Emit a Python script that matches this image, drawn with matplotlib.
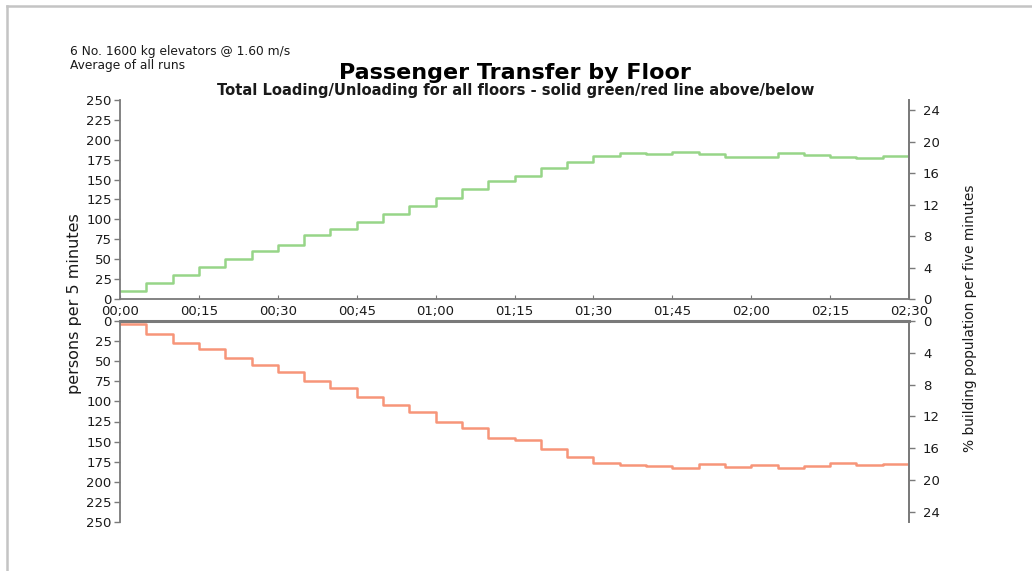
import matplotlib
matplotlib.use('Agg')
import matplotlib.pyplot as plt
from matplotlib.lines import Line2D
import numpy as np

plt.rcParams['font.family'] = ['DejaVu Sans']

# minutes from start, one step every 5 minutes (last point closes the final step)
minutes = np.arange(0, 155, 5)

# passengers loading (above) / unloading (below) per 5 minutes
loading = [10, 20, 30, 40, 50, 60, 68, 80, 88, 97, 107, 117, 127, 138, 148,
           155, 165, 172, 180, 184, 182, 185, 182, 178, 178, 184, 181, 178, 177, 180, 204]
unloading = [4, 16, 27, 35, 46, 55, 64, 75, 83, 95, 105, 113, 125, 133, 145,
             148, 159, 169, 176, 179, 180, 183, 178, 181, 179, 183, 180, 176, 179, 178, 205]

time_ticks = np.arange(0, 151, 15)
time_labels = ['00;00', '00;15', '00;30', '00;45', '01;00', '01;15',
               '01;30', '01;45', '02;00', '02;15', '02;30']
persons_ticks = np.arange(0, 251, 25)
pct_ticks = np.arange(0, 25, 4)
pct_max = 25.3

green = '#97d588'
red = '#f79579'
axis_grey = '#7a7a7a'
text_col = '#1a1a1a'

fig = plt.figure(figsize=(10.32, 5.71), dpi=100)

# light frame round the page
fig.add_artist(Line2D([7/1032, 1], [1 - 6/571, 1 - 6/571], color='#c4c4c4', lw=1.8))
fig.add_artist(Line2D([7/1032, 7/1032], [0, 1 - 6/571], color='#c4c4c4', lw=1.8))

ax_top = fig.add_axes([120/1032, 1 - 299/571, 789/1032, 199/571])
ax_bot = fig.add_axes([120/1032, 1 - 522/571, 789/1032, 201/571])

ax_top.step(minutes, loading, where='post', color=green, lw=1.8)
ax_bot.step(minutes, unloading, where='post', color=red, lw=1.8)

for ax in (ax_top, ax_bot):
    ax.set_xlim(0, 150)
    ax.set_yticks(persons_ticks)
    ax.tick_params(axis='y', direction='out', length=4, width=1, color=axis_grey,
                   labelsize=9.5, labelcolor=text_col, pad=2)
    for s in ax.spines.values():
        s.set_color(axis_grey)
        s.set_linewidth(1.3)

ax_top.set_ylim(0, 250)
ax_top.spines['top'].set_visible(False)
ax_top.set_xticks(time_ticks)
ax_top.set_xticklabels(time_labels)
ax_top.tick_params(axis='x', direction='in', length=3, color=axis_grey,
                   labelsize=9.5, labelcolor=text_col, pad=4)

ax_bot.set_ylim(250, 0)
ax_bot.spines['bottom'].set_visible(False)
ax_bot.spines['top'].set_linewidth(2.2)
ax_bot.set_xticks([])

# right-hand scale as % of building population
for ax, lim in ((ax_top, (0, pct_max)), (ax_bot, (pct_max, 0))):
    ax_r = ax.twinx()
    ax_r.set_ylim(*lim)
    ax_r.set_yticks(pct_ticks)
    ax_r.tick_params(axis='y', direction='out', length=4, width=1, color=axis_grey,
                     labelsize=9.5, labelcolor=text_col, pad=6)
    for s in ax_r.spines.values():
        s.set_visible(False)
    ax_r.spines['right'].set_visible(True)
    ax_r.spines['right'].set_color(axis_grey)
    ax_r.spines['right'].set_linewidth(1.3)

fig.text(75/1032, 1 - 304/571, 'persons per 5 minutes', rotation=90,
         ha='center', va='center', fontsize=11.5, color=text_col)
fig.text(970/1032, 1 - 318/571, '% building population per five minutes', rotation=90,
         ha='center', va='center', fontsize=9.9, color=text_col)

fig.text(70/1032, 1 - 52/571, '6 No. 1600 kg elevators @ 1.60 m/s',
         ha='left', va='center', fontsize=8.8, color=text_col)
fig.text(70/1032, 1 - 66/571, 'Average of all runs',
         ha='left', va='center', fontsize=8.8, color=text_col)

fig.text(515/1032, 1 - 73/571, 'Passenger Transfer by Floor',
         ha='center', va='center', fontsize=16, fontweight='bold', color='black')
fig.text(516/1032, 1 - 90/571, 'Total Loading/Unloading for all floors - solid green/red line above/below',
         ha='center', va='center', fontsize=10.6, fontweight='bold', color=text_col)

fig.savefig('out.png', dpi=100, facecolor='white')
